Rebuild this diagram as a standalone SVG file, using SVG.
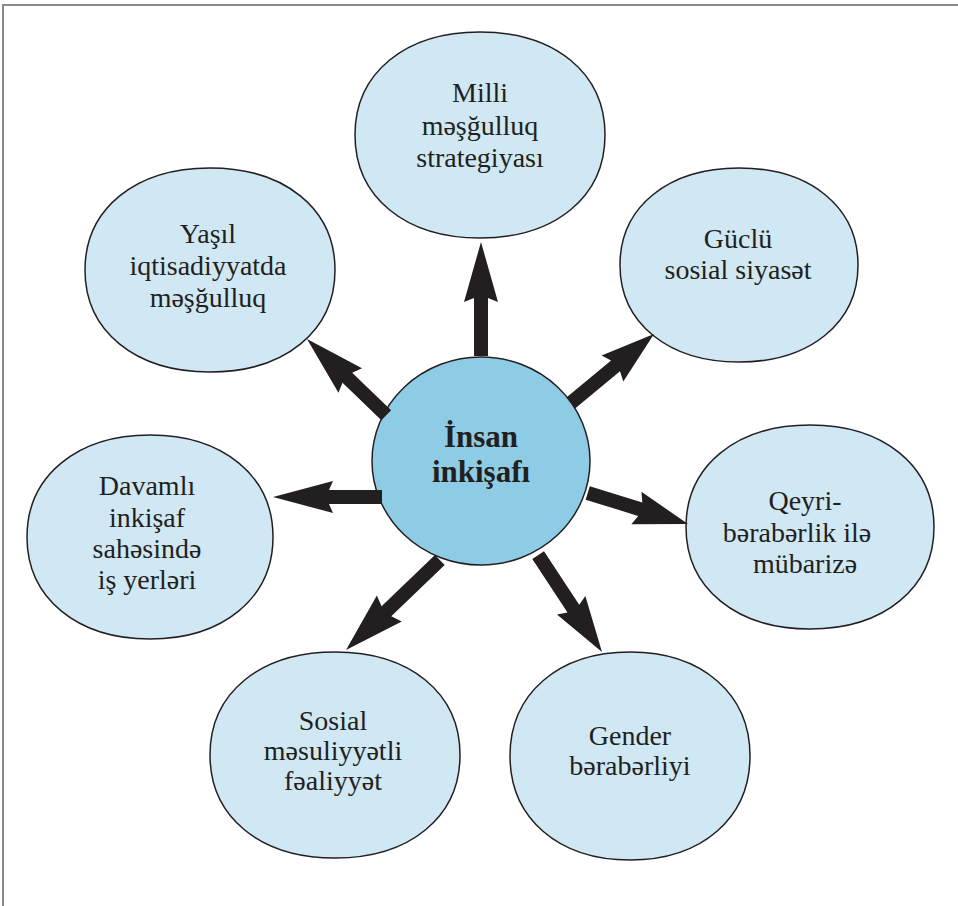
<svg xmlns="http://www.w3.org/2000/svg" width="958" height="906" viewBox="0 0 958 906">
<style>
.bg{fill:#ffffff}
.frame{fill:none;stroke:#8a8a8a;stroke-width:2}
.node{fill:#d0e7f4;stroke:#231f20;stroke-width:1.5}
.hub{fill:#8ecbe5;stroke:#231f20;stroke-width:1.5}
.t{font-family:"Liberation Serif","DejaVu Serif",serif;font-size:28px;fill:#231f20;text-anchor:middle}
.tb{font-family:"Liberation Serif","DejaVu Serif",serif;font-size:31px;font-weight:bold;fill:#231f20;text-anchor:middle}
.arr{fill:#231f20}
</style>
<rect class="bg" x="0" y="0" width="958" height="906"/>
<path class="frame" d="M3,906 V5 H958"/>

<g id="node-milli">
<path class="node" d="M355,135 C355,73 405,32 480,32 C555,32 605,73 605,135 C605,197 555,238 480,238 C405,238 355,197 355,135 Z"/>
<text class="t" x="480" y="102">Milli</text>
<text class="t" x="480" y="135">məşğulluq</text>
<text class="t" x="480" y="167">strategiyası</text>
</g>

<g id="node-yasil">
<path class="node" d="M85,270 C85,209 135,168 210,168 C285,168 335,209 335,270 C335,331 285,372 210,372 C135,372 85,331 85,270 Z"/>
<text class="t" x="208" y="243">Yaşıl</text>
<text class="t" x="208" y="275">iqtisadiyyatda</text>
<text class="t" x="208" y="307">məşğulluq</text>
</g>

<g id="node-guclu">
<path class="node" d="M620,265 C620,207 668,168 739,168 C810,168 858,207 858,265 C858,323 810,362 739,362 C668,362 620,323 620,265 Z"/>
<text class="t" x="738" y="248">Güclü</text>
<text class="t" x="738" y="279">sosial siyasət</text>
</g>

<g id="node-davamli">
<path class="node" d="M27,537 C27,476 77,435 150,435 C223,435 273,476 273,537 C273,598 223,639 150,639 C77,639 27,598 27,537 Z"/>
<text class="t" x="147" y="495">Davamlı</text>
<text class="t" x="147" y="527">inkişaf</text>
<text class="t" x="147" y="558">sahəsində</text>
<text class="t" x="147" y="589">iş yerləri</text>
</g>

<g id="node-qeyri">
<path class="node" d="M686,527 C686,466 736,425 810,425 C884,425 934,466 934,527 C934,588 884,629 810,629 C736,629 686,588 686,527 Z"/>
<text class="t" x="805" y="510">Qeyri-</text>
<text class="t" x="797" y="542">bərabərlik ilə</text>
<text class="t" x="805" y="573">mübarizə</text>
</g>

<g id="node-sosial">
<path class="node" d="M210,755 C210,693 260,652 335,652 C410,652 460,693 460,755 C460,817 410,858 335,858 C260,858 210,817 210,755 Z"/>
<text class="t" x="333" y="730">Sosial</text>
<text class="t" x="333" y="760">məsuliyyətli</text>
<text class="t" x="333" y="790">fəaliyyət</text>
</g>

<g id="node-gender">
<path class="node" d="M510,756 C510,694 558,652 630,652 C702,652 750,694 750,756 C750,818 702,860 630,860 C558,860 510,818 510,756 Z"/>
<text class="t" x="630" y="745">Gender</text>
<text class="t" x="630" y="775">bərabərliyi</text>
</g>

<g id="node-insan">
<ellipse class="hub" cx="481" cy="461" rx="109" ry="104"/>
<text class="tb" x="481" y="447">İnsan</text>
<text class="tb" x="481" y="482">inkişafı</text>
</g>

<g id="connectors">
<g transform="translate(481,242) rotate(-90)"><polygon class="arr" points="-114,-7 -56,-7 -60,-17 0,0 -60,17 -56,7 -114,7"/></g>
<g transform="translate(654,334) rotate(-39.7)"><polygon class="arr" points="-108,-7 -50,-7 -54,-17 0,0 -54,17 -50,7 -108,7"/></g>
<g transform="translate(688,524) rotate(17.2)"><polygon class="arr" points="-105,-7 -50,-7 -54,-17 0,0 -54,17 -50,7 -105,7"/></g>
<g transform="translate(602,652) rotate(56.6)"><polygon class="arr" points="-116,-7 -52,-7 -56,-17 0,0 -56,17 -52,7 -116,7"/></g>
<g transform="translate(346,650) rotate(136.2)"><polygon class="arr" points="-130,-7 -56,-7 -60,-18 0,0 -60,18 -56,7 -130,7"/></g>
<g transform="translate(273,497) rotate(180)"><polygon class="arr" points="-109,-7 -56,-7 -60,-16 0,0 -60,16 -56,7 -109,7"/></g>
<g transform="translate(307,339) rotate(-136.1)"><polygon class="arr" points="-110,-7 -56,-7 -60,-17 0,0 -60,17 -56,7 -110,7"/></g>
</g>
</svg>
